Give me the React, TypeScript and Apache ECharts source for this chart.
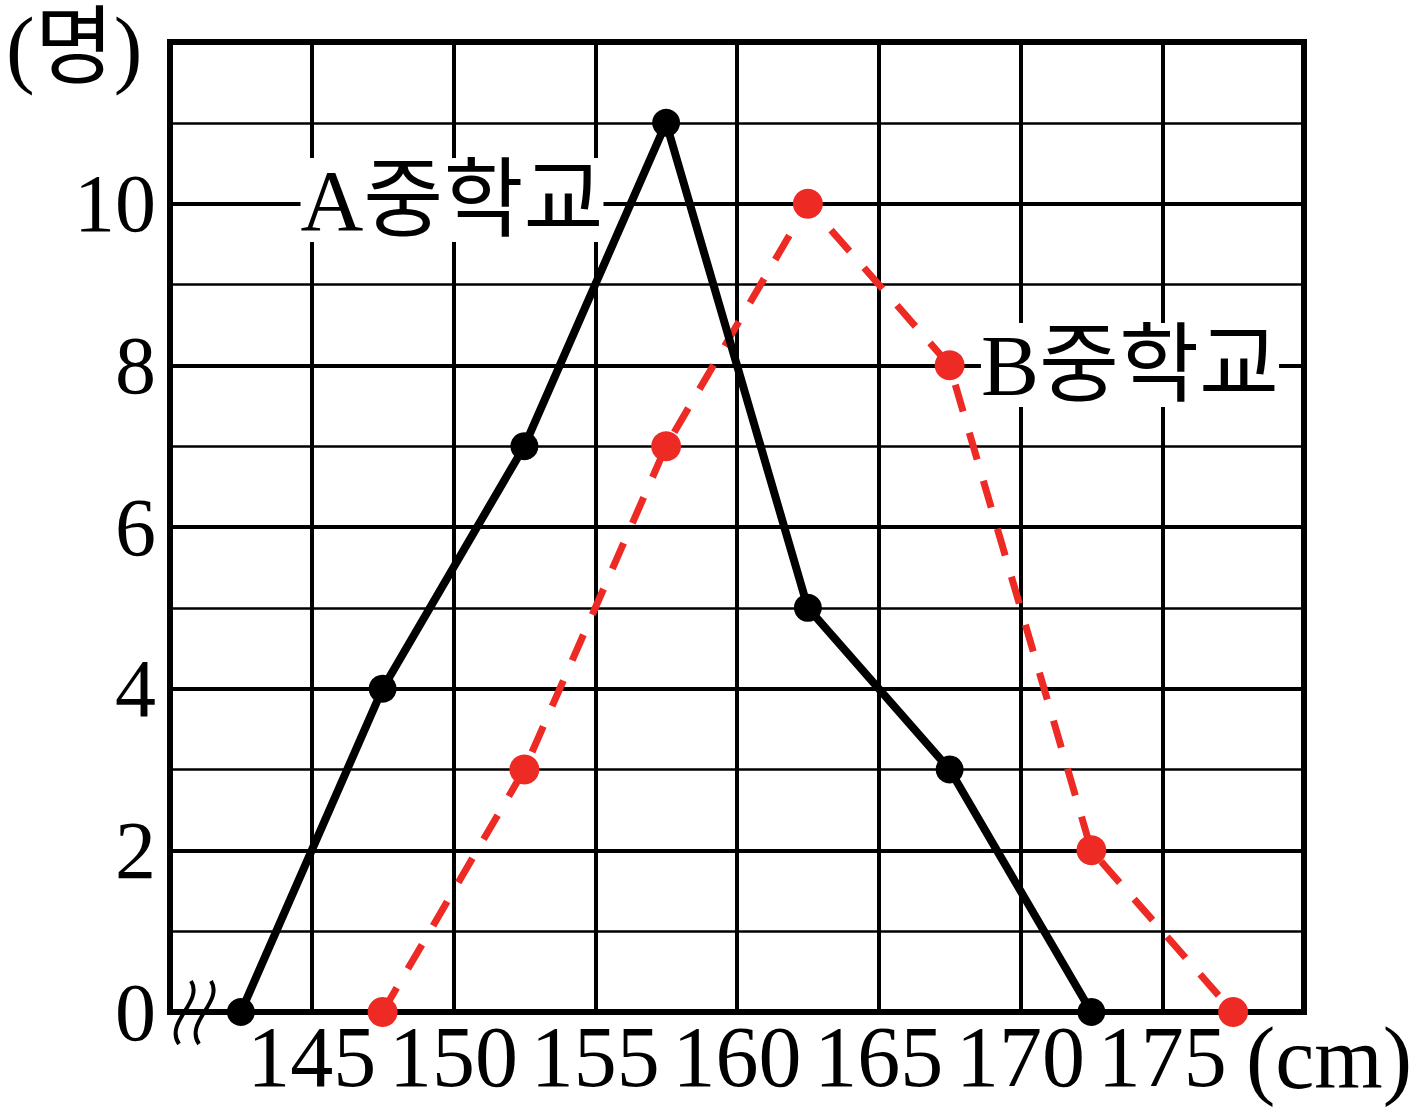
import React, { useEffect, useRef } from "react";
import * as echarts from "echarts";

const seriesAName = "A중학교";
const seriesBName = "B중학교";
const classMarks = [142.5, 147.5, 152.5, 157.5, 162.5, 167.5, 172.5, 177.5];
const valuesA = [0, 4, 7, 11, 5, 3, 0];
const valuesB = [0, 3, 7, 10, 8, 2, 0];
const xTickLabels = [145, 150, 155, 160, 165, 170, 175];
const yUnit = "(명)";
const xUnit = "(cm)";

const SERIF = '"Liberation Serif", "DejaVu Serif", "Noto Sans CJK KR", serif';
const RED = "#EE2A24";

export default function App() {
  const ref = useRef<HTMLDivElement>(null);
  useEffect(() => {
    document.body.style.margin = "0";
    const chart = echarts.init(ref.current!, null, { renderer: "svg" });
    const dataA = valuesA.map((v, i) => [classMarks[i], v]);
    const dataB = valuesB.map((v, i) => [classMarks[i + 1], v]);
    const squiggle = (dx: number) => ({
      type: "bezierCurve",
      z: 5,
      shape: {
        x1: 191 + dx, y1: 981,
        cpx1: 204 + dx, cpy1: 1002,
        cpx2: 164 + dx, cpy2: 1022,
        x2: 179 + dx, y2: 1044,
      },
      style: { stroke: "#000", lineWidth: 4, fill: null },
    });
    const label = (text: string, x: number, y: number, size: number, align: string, bg: boolean, lh: number) => ({
      type: "text",
      z: 4,
      style: {
        text,
        x,
        y,
        font: `${size}px ${SERIF}`,
        fill: "#000",
        textAlign: align,
        textVerticalAlign: "middle",
        backgroundColor: bg ? "#fff" : undefined,
        lineHeight: lh,
      },
    });
    chart.setOption({
      animation: false,
      backgroundColor: "#fff",
      grid: {
        left: 170,
        right: 117,
        top: 42,
        bottom: 105,
        show: true,
        borderColor: "#000",
        borderWidth: 6,
        backgroundColor: "transparent",
        z: 3,
      },
      xAxis: {
        type: "value",
        min: 140,
        max: 180,
        interval: 5,
        axisLine: { show: false },
        axisTick: { show: false },
        splitLine: { show: true, lineStyle: { color: "#000", width: 4 } },
        axisLabel: {
          color: "#000",
          fontFamily: SERIF,
          fontSize: 86,
          margin: 2,
          showMinLabel: false,
          showMaxLabel: false,
          formatter: (v: number) => (xTickLabels.includes(v) ? String(v) : ""),
        },
      },
      yAxis: [
        {
          type: "value",
          min: 0,
          max: 12,
          interval: 2,
          axisLine: { show: false },
          axisTick: { show: false },
          splitLine: { show: true, lineStyle: { color: "#000", width: 4 } },
          axisLabel: {
            color: "#000",
            fontFamily: SERIF,
            fontSize: 82,
            margin: 14,
            showMaxLabel: false,
            formatter: (v: number) => (v >= 12 ? "" : String(v)),
          },
        },
        {
          type: "value",
          min: 0,
          max: 12,
          interval: 1,
          position: "left",
          axisLine: { show: false },
          axisTick: { show: false },
          axisLabel: { show: false },
          splitLine: { show: true, lineStyle: { color: "#000", width: 2.5 } },
        },
      ],
      series: [
        {
          name: seriesAName,
          type: "line",
          data: dataA,
          z: 10,
          symbol: "circle",
          symbolSize: 28,
          itemStyle: { color: "#000" },
          lineStyle: { color: "#000", width: 8 },
        },
        {
          name: seriesBName,
          type: "line",
          data: dataB,
          z: 9,
          symbol: "circle",
          symbolSize: 30,
          itemStyle: { color: RED },
          lineStyle: { color: RED, width: 7, type: [28, 22] },
        },
      ],
      graphic: [
        label(seriesAName, 452, 200, 87, "center", true, 84),
        label(seriesBName, 1130, 365, 87, "center", true, 84),
        label(yUnit, 6, 48, 86, "left", false, 90),
        label(xUnit, 1246, 1058, 88, "left", false, 92),
        squiggle(0),
        squiggle(20),
      ],
    });
    return () => chart.dispose();
  }, []);
  return <div ref={ref} style={{ width: 1421, height: 1117 }} />;
}
